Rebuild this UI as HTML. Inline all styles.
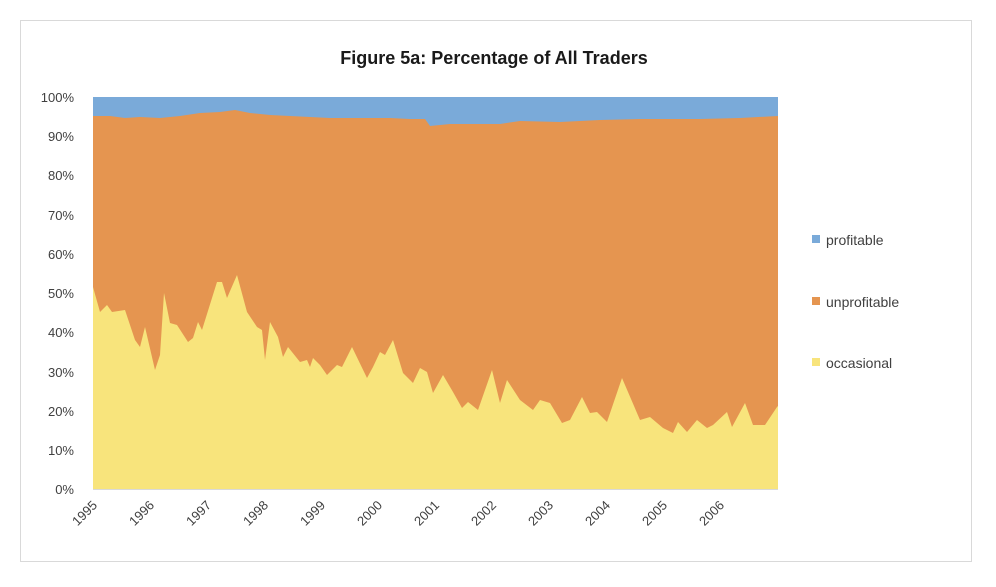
<!DOCTYPE html>
<html><head><meta charset="utf-8"><style>
body{margin:0;background:#fff;}
svg text{font-family:"Liberation Sans",sans-serif;fill:#404040;}
</style></head><body>
<svg width="996" height="582" viewBox="0 0 996 582" xmlns="http://www.w3.org/2000/svg">
<rect x="0" y="0" width="996" height="582" fill="#fff"/>
<rect x="20.5" y="20.5" width="951" height="541" fill="#fff" stroke="#d9d9d9"/>
<text x="494" y="64" text-anchor="middle" font-size="18" font-weight="bold" style="fill:#1a1a1a">Figure 5a: Percentage of All Traders</text>
<rect x="93" y="97" width="685" height="392" fill="#7aaad9"/>
<polygon fill="#e59550" points="93,116 110,116 125,118 140,117 160,118 180,116 200,113 220,112 235,110 250,113 270,115 290,116 310,117 330,118 360,118 390,118 410,119 425,119 430,126 450,124 480,124 500,124 520,121 560,122 600,120 640,119 680,119 700,119 740,118 778,116 778,489 93,489"/>
<polygon fill="#f8e47c" points="93,287 100,312 107,305 112,312 125,310 135,340 140,347 145,327 155,370 160,355 164,293 170,323 177,325 188,342 193,338 198,322 202,330 217,282 222,282 227,298 237,275 247,312 257,327 262,330 265,360 270,322 278,337 283,357 288,347 300,362 307,360 310,367 313,358 320,365 327,375 337,365 342,367 352,347 367,378 373,367 380,352 385,355 393,340 403,373 413,383 420,368 427,372 433,393 443,375 453,392 462,408 468,402 478,410 492,370 500,403 507,380 520,400 533,410 540,400 550,403 562,423 570,420 582,397 590,413 597,412 607,422 622,378 640,420 650,417 663,428 673,433 678,422 687,432 697,420 707,428 713,425 727,412 732,427 745,403 753,425 765,425 777,407 778,406 778,489 93,489"/>
<line x1="93" y1="489.5" x2="778" y2="489.5" stroke="#d9d9d9"/>
<g font-size="13" text-anchor="end">
<text x="74" y="494">0%</text>
<text x="74" y="455">10%</text>
<text x="74" y="416">20%</text>
<text x="74" y="377">30%</text>
<text x="74" y="337">40%</text>
<text x="74" y="298">50%</text>
<text x="74" y="259">60%</text>
<text x="74" y="220">70%</text>
<text x="74" y="180">80%</text>
<text x="74" y="141">90%</text>
<text x="74" y="102">100%</text>
</g>
<g font-size="13" text-anchor="end">
<text transform="translate(98,506) rotate(-45)">1995</text>
<text transform="translate(155,506) rotate(-45)">1996</text>
<text transform="translate(212,506) rotate(-45)">1997</text>
<text transform="translate(269,506) rotate(-45)">1998</text>
<text transform="translate(326,506) rotate(-45)">1999</text>
<text transform="translate(383,506) rotate(-45)">2000</text>
<text transform="translate(440,506) rotate(-45)">2001</text>
<text transform="translate(497,506) rotate(-45)">2002</text>
<text transform="translate(554,506) rotate(-45)">2003</text>
<text transform="translate(611,506) rotate(-45)">2004</text>
<text transform="translate(668,506) rotate(-45)">2005</text>
<text transform="translate(725,506) rotate(-45)">2006</text>
</g>
<rect x="812" y="235" width="8" height="8" fill="#7aaad9"/>
<text x="826" y="245" font-size="14">profitable</text>
<rect x="812" y="297" width="8" height="8" fill="#e59550"/>
<text x="826" y="307" font-size="14">unprofitable</text>
<rect x="812" y="358" width="8" height="8" fill="#f8e47c"/>
<text x="826" y="368" font-size="14">occasional</text>
</svg>
</body></html>
